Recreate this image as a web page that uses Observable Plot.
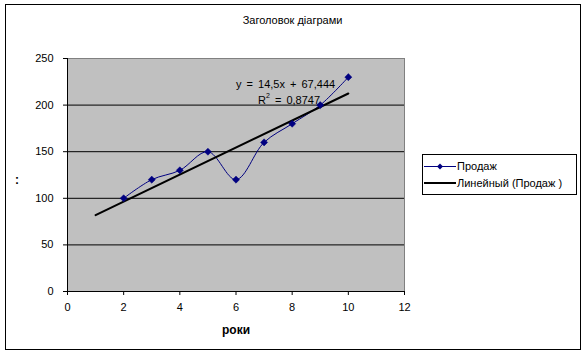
<!DOCTYPE html>
<html>
<head>
<meta charset="utf-8">
<script src="https://cdn.jsdelivr.net/npm/d3@7"></script>
<script src="https://cdn.jsdelivr.net/npm/@observablehq/plot@0.6"></script>
<style>
  html, body { margin: 0; padding: 0; background: #fff; }
  #wrap { position: relative; width: 585px; height: 353px; font-family: "Liberation Sans", Arial, sans-serif; font-size: 11px; color: #000; }
  #wrap svg.plot { position: absolute; left: 0; top: 0; }
  .abs { position: absolute; white-space: pre; line-height: 1; }
  #border { position: absolute; left: 5px; top: 4px; width: 574px; height: 344px; border: 1px solid #000; }
  #legend { position: absolute; left: 422px; top: 154px; width: 153px; height: 39px; border: 1px solid #000; background: #fff; }
</style>
</head>
<body>
<div id="wrap">
  <div id="border"></div>
</div>
<script>
// ---- data ----
const years = [2, 3, 4, 5, 6, 7, 8, 9, 10];
const sales = [100, 120, 130, 150, 120, 160, 180, 200, 230];
const trendX = [1, 10];
const trendY = [81.944, 212.444];
const xTicks = [0, 2, 4, 6, 8, 10, 12];
const yTicks = [0, 50, 100, 150, 200, 250];
const gridY = [50, 100, 150, 200];
const titleText = "Заголовок діаграми";
const xLabel = "роки";
const yLabel = ":";
const eqText = "y = 14,5x + 67,444";
const r2Value = "0,8747";
const seriesName = "Продаж";
const trendName = "Линейный (Продаж )";

const points = years.map((x, i) => ({x, y: sales[i]}));
const trend = trendX.map((x, i) => ({x, y: trendY[i]}));

const navy = "#000080";

const chart = Plot.plot({
  width: 585,
  height: 353,
  marginLeft: 67,
  marginRight: 181,
  marginTop: 58,
  marginBottom: 62,
  style: { fontFamily: "Liberation Sans, Arial, sans-serif", fontSize: "11px", background: "transparent", overflow: "visible" },
  x: { domain: [0, 12] },
  y: { domain: [0, 250] },
  marks: [
    Plot.frame({ fill: "#c0c0c0", stroke: "#808080" }),
    Plot.ruleY(gridY, { stroke: "#000", strokeWidth: 1 }),
    Plot.ruleX([0], { stroke: "#000" }),
    Plot.ruleY([0], { stroke: "#000" }),
    Plot.axisX({ ticks: xTicks, tickSize: 4, tickPadding: 8, label: null, fontSize: 11, stroke: "#000" }),
    Plot.axisY({ ticks: yTicks, tickSize: 4, tickPadding: 10, label: null, fontSize: 11, stroke: "#000" }),
    Plot.line(points, { x: "x", y: "y", stroke: navy, strokeWidth: 1, curve: "catmull-rom" }),
    Plot.line(trend, { x: "x", y: "y", stroke: "#000", strokeWidth: 2 }),
    Plot.dot(points, { x: "x", y: "y", symbol: "diamond2", r: 3.2, fill: navy, stroke: navy, strokeWidth: 0.5 })
  ]
});
chart.classList.add("plot");
const wrap = document.getElementById("wrap");
wrap.appendChild(chart);

function addText(txt, left, top, extra) {
  const d = document.createElement("div");
  d.className = "abs";
  d.textContent = txt;
  d.style.left = left + "px";
  d.style.top = top + "px";
  Object.assign(d.style, extra || {});
  wrap.appendChild(d);
  return d;
}
addText(titleText, 0, 15, { width: "585px", textAlign: "center", left: "0px" });
addText(xLabel, 186, 324, { width: "100px", textAlign: "center", fontWeight: "bold", fontSize: "12px" });
addText(yLabel, 12, 174, { width: "10px", textAlign: "center", fontWeight: "bold", fontSize: "12px" });
addText(eqText, 236, 79, { wordSpacing: "2px" });
const r2 = addText("", 258, 95, {});
r2.innerHTML = "R<sup style='font-size:7px;vertical-align:6px;line-height:0'>2</sup> = " + r2Value;
r2.style.wordSpacing = "2px";

// legend
const lg = document.createElement("div");
lg.id = "legend";
lg.innerHTML = `
<svg width="36" height="39" style="position:absolute;left:0;top:0">
  <line x1="1" x2="33" y1="11.5" y2="11.5" stroke="${navy}" stroke-width="1"/>
  <path d="M17,8.5 L20,11.5 L17,14.5 L14,11.5 Z" fill="${navy}"/>
  <line x1="1" x2="33" y1="28" y2="28" stroke="#000" stroke-width="2"/>
</svg>
<div class="abs" style="left:34px;top:6px">${seriesName}</div>
<div class="abs" style="left:34px;top:23px">${trendName}</div>`;
wrap.appendChild(lg);
</script>
</body>
</html>
